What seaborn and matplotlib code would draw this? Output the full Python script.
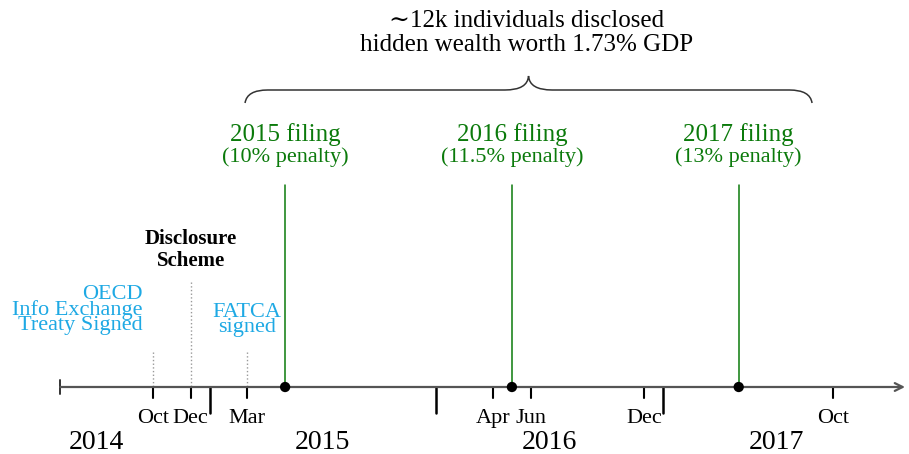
import matplotlib
matplotlib.use("Agg")
import matplotlib.pyplot as plt
import seaborn as sns
import pandas as pd
from matplotlib.path import Path
from matplotlib.patches import PathPatch

# x positions are months counted from 1 Jan 2014
month_ticks = [9, 11, 14, 27, 29, 35, 45]
month_labels = ["Oct", "Dec", "Mar", "Apr", "Jun", "Dec", "Oct"]
year_bounds = [12, 24, 36]
year_labels = ["2014", "2015", "2016", "2017"]
year_mid = [6, 18, 30, 42]

filing_month = [16, 28, 40]
filing_title = ["2015 filing", "2016 filing", "2017 filing"]
filing_penalty = ["(10% penalty)", "(11.5% penalty)", "(13% penalty)"]

event_month = [9, 11, 14]
event_text = ["OECD\nInfo Exchange\nTreaty Signed", "Disclosure\nScheme", "FATCA\nsigned"]

brace_span = [13.88, 43.88]
brace_text = "\u223c12k individuals disclosed\nhidden wealth worth 1.73% GDP"

BLUE = "#1EA9E4"
GREEN = "#0B7A0B"
AXIS_Y = 387

sns.set_theme(style="white")
plt.rcParams["font.family"] = ["Liberation Serif", "DejaVu Serif"]
plt.rcParams["text.color"] = "black"

fig = plt.figure(figsize=(9.09, 4.54), dpi=100)
ax = fig.add_axes([0, 0, 1, 1])
ax.set_xlim(0.915, 49.01)
ax.set_ylim(454, 0)
ax.axis("off")

# main timeline with arrow
ax.annotate("", xy=(48.8, AXIS_Y), xytext=(4.1, AXIS_Y),
            arrowprops=dict(arrowstyle="->", color="#555555", lw=1.6,
                            mutation_scale=14, shrinkA=0, shrinkB=0))
ax.plot([4.1, 4.1], [380, 394], color="#333333", lw=1.4)

# month ticks and labels
for m, lab in zip(month_ticks, month_labels):
    ax.plot([m, m], [AXIS_Y, 398], color="black", lw=1.5)
    ax.text(m, 423, lab, ha="center", va="baseline", fontsize=16)

# year boundaries and labels
for m in year_bounds:
    ax.plot([m, m], [AXIS_Y, 413], color="black", lw=1.8)
for m, lab in zip(year_mid, year_labels):
    ax.text(m, 449, lab, ha="center", va="baseline", fontsize=20)

# events before the scheme
ax.plot([event_month[0]] * 2, [352, AXIS_Y], color="#999999", lw=1, ls=":")
ax.plot([event_month[1]] * 2, [282, AXIS_Y], color="#999999", lw=1, ls=":")
ax.plot([event_month[2]] * 2, [352, AXIS_Y], color="#999999", lw=1, ls=":")
ax.text(event_month[0] - 0.55, 310, event_text[0], ha="right", va="center",
        fontsize=16, color=BLUE, linespacing=0.72, multialignment="right")
ax.text(event_month[1], 250, event_text[1], ha="center", va="center",
        fontsize=15, fontweight="bold", color="black", linespacing=1.15)
ax.text(event_month[2], 320, event_text[2], ha="center", va="center",
        fontsize=16, color=BLUE, linespacing=0.72)

# filing windows
for m, t, p in zip(filing_month, filing_title, filing_penalty):
    ax.plot([m, m], [185, AXIS_Y], color=GREEN, lw=1.1)
    ax.text(m, 135, t, ha="center", va="center", fontsize=18, color=GREEN)
    ax.text(m, 157, p, ha="center", va="center", fontsize=16, color=GREEN)
dots = pd.DataFrame({"month": filing_month, "y": [AXIS_Y] * len(filing_month)})
sns.scatterplot(data=dots, x="month", y="y", color="black", s=55,
                edgecolor="none", ax=ax, zorder=5, legend=False)

# curly brace over the whole filing period
x0, x1 = brace_span
xc = (x0 + x1) / 2
yb, yf, yt, q, qt = 103, 90, 76, 1.2, 1.25
verts = [(x0, yb), (x0 + 0.1, yf), (x0 + q, yf), (xc - qt, yf), (xc - 0.05, yf), (xc, yt),
         (xc + 0.05, yf), (xc + qt, yf), (x1 - q, yf), (x1 - 0.1, yf), (x1, yb)]
codes = [Path.MOVETO, Path.CURVE3, Path.CURVE3, Path.LINETO, Path.CURVE3, Path.CURVE3,
         Path.CURVE3, Path.CURVE3, Path.LINETO, Path.CURVE3, Path.CURVE3]
ax.add_patch(PathPatch(Path(verts, codes), fill=False, edgecolor="#333333", lw=1.1))
ax.text(xc - 0.1, 33, brace_text, ha="center", va="center", fontsize=18,
        linespacing=1.1)

fig.savefig("out.png", dpi=100)
